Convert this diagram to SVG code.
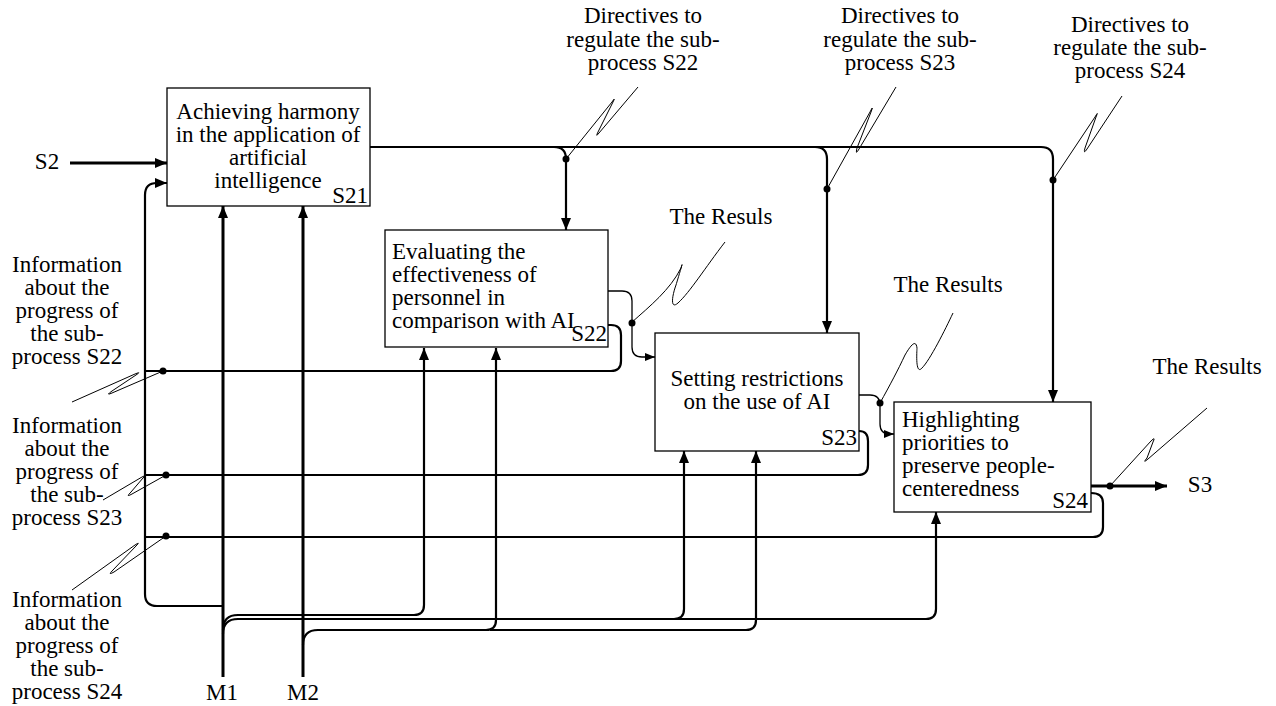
<svg xmlns="http://www.w3.org/2000/svg" width="1276" height="706" viewBox="0 0 1276 706">
<style>
text{font-family:"Liberation Serif","Times New Roman",serif;font-size:23px;fill:#000}
.c{text-anchor:middle}
.e{text-anchor:end}
.box{fill:#fff;stroke:#000;stroke-width:1.3}
.w3{fill:none;stroke:#000;stroke-width:3}
.w2{fill:none;stroke:#000;stroke-width:2.2}
.w1{fill:none;stroke:#000;stroke-width:1.3}
.sq{fill:none;stroke:#000;stroke-width:1;stroke-linejoin:round}
.dot{fill:#000}
</style>
<defs>
<marker id="ah" markerUnits="userSpaceOnUse" markerWidth="12" markerHeight="10" viewBox="0 0 12 10" refX="12" refY="5" orient="auto"><path d="M0,0 L12,5 L0,10 z"/></marker>
<marker id="as" markerUnits="userSpaceOnUse" markerWidth="10" markerHeight="8" viewBox="0 0 10 8" refX="10" refY="4" orient="auto"><path d="M0,0 L10,4 L0,8 z"/></marker>
</defs>

<g id="connectors">
<!-- S2 input -->
<path class="w3" d="M70,163 L167,163" marker-end="url(#ah)"/>
<!-- mechanisms -->
<path class="w3" d="M223,677 L223,206" marker-end="url(#ah)"/>
<path class="w3" d="M303,677 L303,206" marker-end="url(#ah)"/>
<path class="w2" d="M223,630 Q223,615 238,615 L414,615 Q424,615 424,605 L424,348" marker-end="url(#ah)"/>
<path class="w2" d="M223,634 Q223,619 238,619 L674,619 Q684,619 684,609 L684,451" marker-end="url(#ah)"/>
<path class="w2" d="M670,619 L926,619 Q936,619 936,609 L936,512" marker-end="url(#ah)"/>
<path class="w2" d="M303,645 Q303,630 318,630 L486,630 Q496,630 496,620 L496,348" marker-end="url(#ah)"/>
<path class="w2" d="M490,630 L746,630 Q756,630 756,620 L756,451" marker-end="url(#ah)"/>
<!-- controls from S21 -->
<path class="w2" d="M370,147 L1041,147 Q1053,147 1053,159 L1053,402" marker-end="url(#ah)"/>
<path class="w2" d="M554,147 Q566,147 566,159 L566,230" marker-end="url(#ah)"/>
<path class="w2" d="M815,147 Q827,147 827,159 L827,333" marker-end="url(#ah)"/>
<!-- outputs -->
<path class="w1" d="M608,291 L622,291 Q632,291 632,301 L632,347 Q632,357 642,357 L655,357" marker-end="url(#as)"/>
<path class="w1" d="M859,395 L870,395 Q880,395 880,405 L880,424 Q880,434 890,434 L894,434" marker-end="url(#as)"/>
<path class="w3" d="M1091,486 L1167,486" marker-end="url(#ah)"/>
<!-- feedback -->
<path class="w2" d="M608,325 L611,325 Q621,325 621,335 L621,361 Q621,371 611,371 L145,371"/>
<path class="w2" d="M859,431 Q868,431 868,441 L868,465 Q868,475 858,475 L145,475"/>
<path class="w2" d="M1091,493 Q1103,493 1103,503 L1103,527 Q1103,537 1093,537 L145,537"/>
<path class="w2" d="M223,606 L157,606 Q145,606 145,594 L145,195 Q145,183 157,183 L167,183" marker-end="url(#ah)"/>
<!-- squiggles -->
<path class="sq" d="M638,87 L599,133 Q595,138 598,132 L613,102 Q616,96 612,102 L566,159"/>
<path class="sq" d="M896,87 L859,149 Q855,156 857,148 L871,112 Q874,104 870,112 L827,189"/>
<path class="sq" d="M1122,96 L1087,149 Q1083,155 1085,148 L1096,117 Q1099,110 1095,117 L1053,180"/>
<path class="sq" d="M725,242 C705,268 690,292 678,303 C670,310 672,296 676,285 C680,272 684,258 681,268 C670,290 650,306 631,323"/>
<path class="sq" d="M953,313 C945,330 930,360 922,368 C915,376 917,350 917,348 C916,340 912,343 905,355 C898,370 890,385 880,403"/>
<path class="sq" d="M1207,408 L1148,459 Q1142,464 1147,458 L1153,442 Q1156,436 1151,441 L1110,486"/>
<path class="sq" d="M72,402 L135,374 Q142,371 136,375 L112,391 Q105,396 112,393 L163,371"/>
<path class="sq" d="M103,500 L142,477 Q148,474 143,478 L131,492 Q125,498 132,494 L166,475"/>
<path class="sq" d="M72,590 L135,545 Q141,541 136,546 L113,570 Q107,576 114,572 L166,536"/>
<!-- junction dots -->
<circle class="dot" cx="566" cy="159" r="3.5"/>
<circle class="dot" cx="827" cy="189" r="3.5"/>
<circle class="dot" cx="1053" cy="180" r="3.5"/>
<circle class="dot" cx="632" cy="323" r="3.5"/>
<circle class="dot" cx="880" cy="403" r="3.5"/>
<circle class="dot" cx="1110" cy="486" r="3.5"/>
<circle class="dot" cx="163" cy="371" r="3.5"/>
<circle class="dot" cx="166" cy="475" r="3.5"/>
<circle class="dot" cx="166" cy="536" r="3.5"/>
</g>

<g id="S21">
<rect class="box" x="167" y="88" width="203" height="118"/>
<text class="c" x="268" y="119">Achieving harmony</text>
<text class="c" x="268" y="142">in the application of</text>
<text class="c" x="268" y="165">artificial</text>
<text class="c" x="268" y="188">intelligence</text>
<text class="e" x="368" y="203">S21</text>
</g>
<g id="S22">
<rect class="box" x="385" y="230" width="223" height="117"/>
<text x="392" y="259">Evaluating the</text>
<text x="392" y="282">effectiveness of</text>
<text x="392" y="305">personnel in</text>
<text x="392" y="328">comparison with AI</text>
<text class="e" x="607" y="341">S22</text>
</g>
<g id="S23">
<rect class="box" x="655" y="333" width="204" height="118"/>
<text class="c" x="757" y="386">Setting restrictions</text>
<text class="c" x="757" y="409">on the use of AI</text>
<text class="e" x="857" y="445">S23</text>
</g>
<g id="S24">
<rect class="box" x="894" y="402" width="197" height="110"/>
<text x="902" y="427">Highlighting</text>
<text x="902" y="450">priorities to</text>
<text x="902" y="473">preserve people-</text>
<text x="902" y="496">centeredness</text>
<text class="e" x="1088" y="508">S24</text>
</g>

<g id="labels">
<text class="c" x="47" y="169">S2</text>
<text class="c" x="1200" y="492">S3</text>
<text class="c" x="222" y="700">M1</text>
<text class="c" x="303" y="700">M2</text>
<text class="c" x="643" y="23">Directives to</text>
<text class="c" x="643" y="47">regulate the sub-</text>
<text class="c" x="643" y="70">process S22</text>
<text class="c" x="900" y="23">Directives to</text>
<text class="c" x="900" y="47">regulate the sub-</text>
<text class="c" x="900" y="70">process S23</text>
<text class="c" x="1130" y="32">Directives to</text>
<text class="c" x="1130" y="55">regulate the sub-</text>
<text class="c" x="1130" y="78">process S24</text>
<text class="c" x="721" y="224">The Resuls</text>
<text class="c" x="948" y="292">The Results</text>
<text class="c" x="1207" y="374">The Results</text>
<text class="c" x="67" y="272">Information</text>
<text class="c" x="67" y="295">about the</text>
<text class="c" x="67" y="318">progress of</text>
<text class="c" x="67" y="341">the sub-</text>
<text class="c" x="67" y="364">process S22</text>
<text class="c" x="67" y="433">Information</text>
<text class="c" x="67" y="456">about the</text>
<text class="c" x="67" y="479">progress of</text>
<text class="c" x="67" y="502">the sub-</text>
<text class="c" x="67" y="525">process S23</text>
<text class="c" x="67" y="607">Information</text>
<text class="c" x="67" y="630">about the</text>
<text class="c" x="67" y="653">progress of</text>
<text class="c" x="67" y="676">the sub-</text>
<text class="c" x="67" y="699">process S24</text>
</g>
</svg>
